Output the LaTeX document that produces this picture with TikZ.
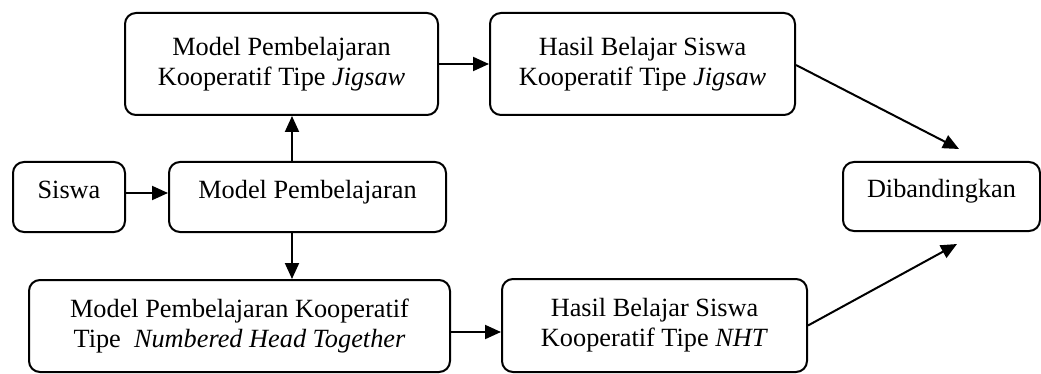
\documentclass[tikz,border=0pt]{standalone}
\usepackage{fontspec}
\setmainfont{Liberation Serif}
\usetikzlibrary{arrows.meta}

\tikzset{
  box/.style={draw, line width=2pt, rounded corners=11pt, inner sep=0pt,
    align=center, font=\fontsize{26.3}{30}\selectfont},
  oneline/.style={text height=12pt, text depth=9pt},
  arr/.style={line width=2pt, -{Triangle[length=16pt,width=14pt]}}
}

\begin{document}
\begin{tikzpicture}[x=1pt, y=-1pt]
  \useasboundingbox (0,0) rectangle (1041,374);

  % boxes
  \node[box, oneline, minimum width=112pt, minimum height=70pt] (siswa) at (69,197) {Siswa};
  \node[box, oneline, minimum width=277pt, minimum height=70pt] (mp) at (307.5,197) {Model Pembelajaran};
  \node[box, minimum width=313pt, minimum height=102pt] (jig) at (281.5,64)
    {Model Pembelajaran\\Kooperatif Tipe \textit{Jigsaw}};
  \node[box, minimum width=305pt, minimum height=102pt] (hjig) at (642.5,64)
    {Hasil Belajar Siswa\\Kooperatif Tipe \textit{Jigsaw}};
  \node[box, minimum width=421pt, minimum height=92pt] (nht) at (239.5,326)
    {Model Pembelajaran Kooperatif\\Tipe~ \textit{Numbered Head Together}};
  \node[box, minimum width=305pt, minimum height=93pt] (hnht) at (654.5,325.5)
    {Hasil Belajar Siswa\\Kooperatif Tipe \textit{NHT}};
  \node[box, oneline, minimum width=197pt, minimum height=69pt] (dib) at (941.5,196.5) {Dibandingkan};

  % connectors
  \draw[arr] ([yshift=4pt]siswa.east) -- ([yshift=4pt]mp.west);
  \draw[arr] ([xshift=-15.5pt]mp.north) -- ([xshift=10.5pt]jig.south);
  \draw[arr] ([xshift=-15.5pt]mp.south) -- ([xshift=52.5pt]nht.north);
  \draw[arr] (jig.east) -- (hjig.west);
  \draw[arr] ([yshift=-6pt]nht.east) -- ([yshift=-6.5pt]hnht.west);
  \draw[arr] ([yshift=-1pt]hjig.east) -- ([shift={(17.5pt,12pt)}]dib.north);
  \draw[arr] (hnht.east) -- ([shift={(15.5pt,-12pt)}]dib.south);
\end{tikzpicture}
\end{document}
